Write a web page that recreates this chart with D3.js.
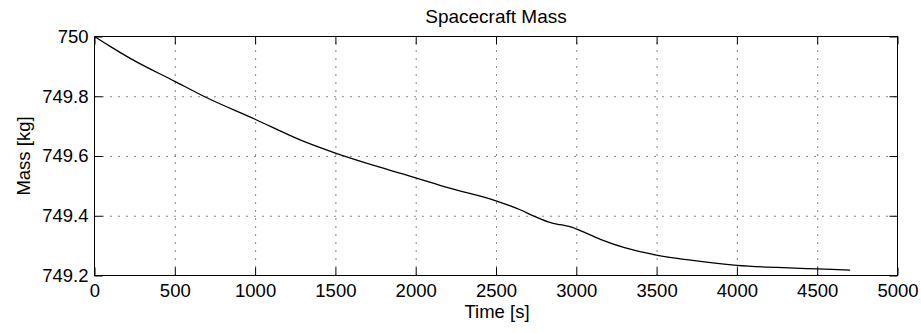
<!DOCTYPE html>
<html>
<head>
<meta charset="utf-8">
<script src="https://cdn.jsdelivr.net/npm/d3@7"></script>
<style>
  html, body { margin: 0; padding: 0; background: #fff; }
  svg { display: block; font-family: "Liberation Sans", Arial, Helvetica, sans-serif; }
</style>
</head>
<body>
<svg id="chart" width="921" height="333"></svg>
<script>
// Spacecraft mass history
const timeS = [0, 100, 225, 500, 680, 1000, 1280, 1500, 1750, 2000, 2200, 2500, 2650,
               2740, 2840, 2900, 2975, 3025, 3150, 3300, 3500, 3700, 4000, 4250, 4500, 4705];
const massKg = [750, 749.966, 749.926, 749.850, 749.800, 749.723, 749.654, 749.610, 749.567,
                749.527, 749.494, 749.450, 749.420, 749.398, 749.377, 749.370, 749.361, 749.350,
                749.321, 749.293, 749.268, 749.252, 749.234, 749.227, 749.222, 749.218];
const xTicks = [0, 500, 1000, 1500, 2000, 2500, 3000, 3500, 4000, 4500, 5000];
const yTicks = [749.2, 749.4, 749.6, 749.8, 750];
const titleText = "Spacecraft Mass";
const xLabelText = "Time [s]";
const yLabelText = "Mass [kg]";

const svg = d3.select("#chart");
const plotLeft = 94.5, plotRight = 897.5, plotTop = 36.5, plotBottom = 275.5;
const fontSize = 18.5;
const tickLen = 8;

const x = d3.scaleLinear().domain([0, 5000]).range([plotLeft, plotRight]);
const y = d3.scaleLinear().domain([749.2, 750]).range([plotBottom, plotTop]);

// dotted grid
const grid = svg.append("g").attr("class", "grid");
grid.append("g")
  .attr("transform", `translate(0,${plotBottom})`)
  .call(d3.axisBottom(x).tickValues(xTicks.slice(1, -1)).tickSize(-(plotBottom - plotTop)).tickFormat(""))
  .call(g => g.select(".domain").remove());
grid.append("g")
  .attr("transform", `translate(${plotLeft},0)`)
  .call(d3.axisLeft(y).tickValues(yTicks.slice(1, -1)).tickSize(-(plotRight - plotLeft)).tickFormat(""))
  .call(g => g.select(".domain").remove());
grid.selectAll("line")
  .attr("stroke", "#111")
  .attr("stroke-width", 1)
  .attr("stroke-dasharray", "1,7");

// data line
const line = d3.line()
  .x((d, i) => x(timeS[i]))
  .y(d => y(d))
  .curve(d3.curveMonotoneX);
svg.append("path")
  .datum(massKg)
  .attr("fill", "none")
  .attr("stroke", "#000")
  .attr("stroke-width", 1.3)
  .attr("stroke-linejoin", "round")
  .attr("d", line);

// axes with inward ticks on all four sides
const styleAxis = g => {
  g.select(".domain").remove();
  g.selectAll(".tick line").attr("stroke", "#000").attr("stroke-width", 1);
  g.selectAll("text")
    .attr("fill", "#000")
    .attr("font-size", fontSize)
    .attr("font-family", "Liberation Sans, Arial, Helvetica, sans-serif");
};

svg.append("g")
  .attr("transform", `translate(0,${plotBottom})`)
  .call(d3.axisBottom(x).tickValues(xTicks).tickSize(-tickLen).tickPadding(8).tickFormat(d3.format("d")))
  .call(styleAxis);

svg.append("g")
  .attr("transform", `translate(${plotLeft},0)`)
  .call(d3.axisLeft(y).tickValues(yTicks).tickSize(-tickLen).tickPadding(6).tickFormat(d => String(+d.toFixed(1))))
  .call(styleAxis);

svg.append("g")
  .attr("transform", `translate(0,${plotTop})`)
  .call(d3.axisTop(x).tickValues(xTicks).tickSize(-tickLen).tickFormat(""))
  .call(styleAxis);

svg.append("g")
  .attr("transform", `translate(${plotRight},0)`)
  .call(d3.axisRight(y).tickValues(yTicks).tickSize(-tickLen).tickFormat(""))
  .call(styleAxis);

// frame
svg.append("rect")
  .attr("x", plotLeft).attr("y", plotTop)
  .attr("width", plotRight - plotLeft).attr("height", plotBottom - plotTop)
  .attr("fill", "none").attr("stroke", "#000").attr("stroke-width", 1);

// title and axis labels
svg.append("text")
  .attr("x", (plotLeft + plotRight) / 2).attr("y", 23)
  .attr("text-anchor", "middle")
  .attr("font-size", fontSize + 0.5)
  .text(titleText);

svg.append("text")
  .attr("x", (plotLeft + plotRight) / 2 + 1).attr("y", 317.5)
  .attr("text-anchor", "middle")
  .attr("font-size", fontSize)
  .text(xLabelText);

svg.append("text")
  .attr("transform", `translate(29.5,${(plotTop + plotBottom) / 2}) rotate(-90)`)
  .attr("text-anchor", "middle")
  .attr("font-size", fontSize)
  .text(yLabelText);
</script>
</body>
</html>
